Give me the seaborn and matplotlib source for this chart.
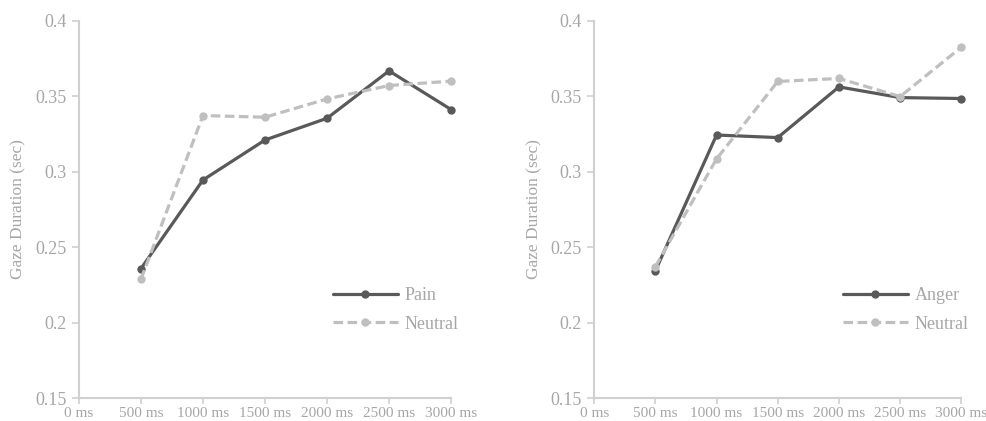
import numpy as np
import pandas as pd
import matplotlib
matplotlib.use("Agg")
import matplotlib.pyplot as plt
import seaborn as sns

TICK_MS = [0, 500, 1000, 1500, 2000, 2500, 3000]
TIME_MS = [500, 1000, 1500, 2000, 2500, 3000]

PAIN = [0.2358, 0.2945, 0.3210, 0.3354, 0.3668, 0.3412]
NEUTRAL_PAIN = [0.2288, 0.3372, 0.3361, 0.3482, 0.3571, 0.3600]

ANGER = [0.2343, 0.3243, 0.3226, 0.3562, 0.3491, 0.3485]
NEUTRAL_ANGER = [0.2370, 0.3085, 0.3598, 0.3618, 0.3498, 0.3825]

Y_TICKS = [0.15, 0.2, 0.25, 0.3, 0.35, 0.4]
Y_TICK_LABELS = ["0.15", "0.2", "0.25", "0.3", "0.35", "0.4"]

DARK = "#595959"
LIGHT = "#bfbfbf"
TEXT = "#a6a6a6"
AXIS = "#d0d0d0"

sns.set_style("white")
plt.rcParams["font.family"] = ["Liberation Serif", "DejaVu Serif"]


def make_panel(ax, emotion, emo_vals, neu_vals):
    df = pd.DataFrame({
        "time": TIME_MS * 2,
        "value": emo_vals + neu_vals,
        "cond": [emotion] * len(TIME_MS) + ["Neutral"] * len(TIME_MS),
    })
    sns.lineplot(data=df, x="time", y="value", hue="cond", style="cond",
                 palette={emotion: DARK, "Neutral": LIGHT},
                 dashes={emotion: "", "Neutral": (3, 1.4)},
                 markers={emotion: "o", "Neutral": "o"},
                 markersize=6, markeredgewidth=0, linewidth=2.3,
                 clip_on=False, ax=ax)

    ax.set_xlim(0, 3000)
    ax.set_ylim(0.15, 0.4)
    ax.set_xticks(TICK_MS)
    ax.set_xticklabels([f"{t} ms" for t in TICK_MS])
    ax.set_yticks(Y_TICKS)
    ax.set_yticklabels(Y_TICK_LABELS)
    ax.set_xlabel("")
    ax.set_ylabel("Gaze Duration (sec)", color=TEXT, fontsize=12.5)
    ax.yaxis.set_label_coords(-0.142, 0.5)

    ax.tick_params(axis="x", colors=AXIS, labelcolor=TEXT, labelsize=11,
                   length=4, width=1.2, direction="out", bottom=True, pad=2.5)
    ax.tick_params(axis="y", colors=AXIS, labelcolor=TEXT, labelsize=13,
                   length=5, width=1.2, direction="out", left=True, pad=4)

    for side in ["top", "right"]:
        ax.spines[side].set_visible(False)
    for side in ["left", "bottom"]:
        ax.spines[side].set_color(AXIS)
        ax.spines[side].set_linewidth(1.5)

    leg = ax.legend(loc="lower right", bbox_to_anchor=(1.065, 0.13), frameon=False,
                    fontsize=13, handlelength=3.6, handletextpad=0.4,
                    labelspacing=0.65)
    for txt in leg.get_texts():
        txt.set_color(TEXT)


fig = plt.figure(figsize=(9.87, 4.21), dpi=100)
ax1 = fig.add_axes([0.080, 0.0546, 0.377, 0.896])
ax2 = fig.add_axes([0.602, 0.0546, 0.372, 0.896])

make_panel(ax1, "Pain", PAIN, NEUTRAL_PAIN)
make_panel(ax2, "Anger", ANGER, NEUTRAL_ANGER)

fig.savefig("out.png", dpi=100)
